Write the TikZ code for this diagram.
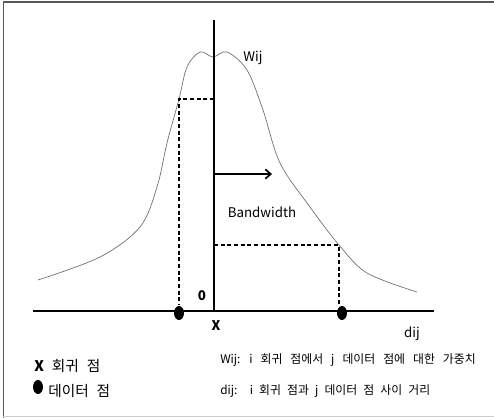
\documentclass[tikz,border=0pt]{standalone}
\usepackage{fontspec}
\setmainfont{Noto Sans CJK KR}
\usetikzlibrary{arrows.meta,shapes.geometric}
\newcommand\legspace{\spaceskip 6pt\relax}
\newcommand\explspace{\spaceskip 4.6pt\relax}
\newcommand\explspacewide{\spaceskip 6pt\relax}
\begin{document}
\begin{tikzpicture}[x=0.75pt,y=-0.75pt,
  axis/.style={line width=1.8pt,black},
  guide/.style={line width=1.3pt,black,dash pattern=on 3pt off 2pt},
  curve/.style={line width=0.5pt,gray!85!black},
  dot/.style={ellipse,fill=black,minimum width=7.5pt,minimum height=10.5pt,inner sep=0pt},
  lbl/.style={font=\fontsize{10pt}{12pt}\selectfont,inner sep=0pt},
  blbl/.style={font=\fontsize{10pt}{12pt}\selectfont\bfseries,inner sep=0pt},
  leg/.style={font=\fontsize{11pt}{13pt}\selectfont\legspace,inner sep=0pt},
  expl/.style={font=\fontsize{8.9pt}{12pt}\selectfont\explspace,inner sep=0pt},
  explw/.style={font=\fontsize{8.9pt}{12pt}\selectfont\explspacewide,inner sep=0pt}]
\useasboundingbox (0,0) rectangle (494,418);
% frame
\draw[line width=1.2pt,gray!70!black] (3.5,418) -- (3.5,2) -- (494,2);
\draw[line width=0.8pt,gray!40] (3.5,416.5) -- (494,416.5);
% curve
\draw[curve] plot[smooth,tension=0.55] coordinates {
 (38,280) (100,257) (140,227) (157,187) (167,143) (179,99) (187,67)
 (200,52) (213,57) (227,52) (247,70) (263,110) (280,163) (310,207)
 (339,245) (367,273) (417,292)};
% axes
\coordinate (axL) at (33,311);
\coordinate (axR) at (434,311);
\coordinate (org) at (214,311);
\coordinate (top) at (214,20);
\draw[axis] (axL) -- (axR);
\draw[axis] (org) -- (top);
% dashed guides
\coordinate (lc) at (179,99);
\coordinate (lv) at (214,99);
\coordinate (lb) at (179,305);
\coordinate (rc) at (339,245);
\coordinate (rv) at (214,245);
\coordinate (rb) at (339,305);
\draw[guide] (lv) -- (lc) -- (lb);
\draw[guide] (rv) -- (rc) -- (rb);
% dots
\node[dot] (d1) at (179,313) {};
\node[dot] (d2) at (342,313) {};
% arrow
\coordinate (as) at (214,174);
\coordinate (ae) at (272,174);
\draw[line width=1.3pt,-{Straight Barb[length=4pt,width=7pt]}] (as) -- (ae);
% labels
\node[lbl] (wij) at (253,58) {Wij};
\node[lbl] (bw) at (262,212) {Bandwidth};
\node[blbl] (zero) at (202,296) {0};
\node[blbl] (xx) at (216,326) {X};
\node[lbl] (dij) at (412,334) {dij};
% legend
\node[leg,anchor=west] (lg1) at (34,366) {\textbf{X} 회귀 점};
\node[dot] (lgdot) at (38,387) {};
\node[leg,anchor=west] (lg2) at (48,391) {데이터 점};
\node[explw,anchor=west] (ex1) at (220,360) {Wij: i 회귀 점에서 j 데이터 점에 대한 가중치};
\node[expl,anchor=west] (ex2) at (220,391) {dij:\hspace{4pt} i 회귀 점과 j 데이터 점 사이 거리};
\end{tikzpicture}
\end{document}
